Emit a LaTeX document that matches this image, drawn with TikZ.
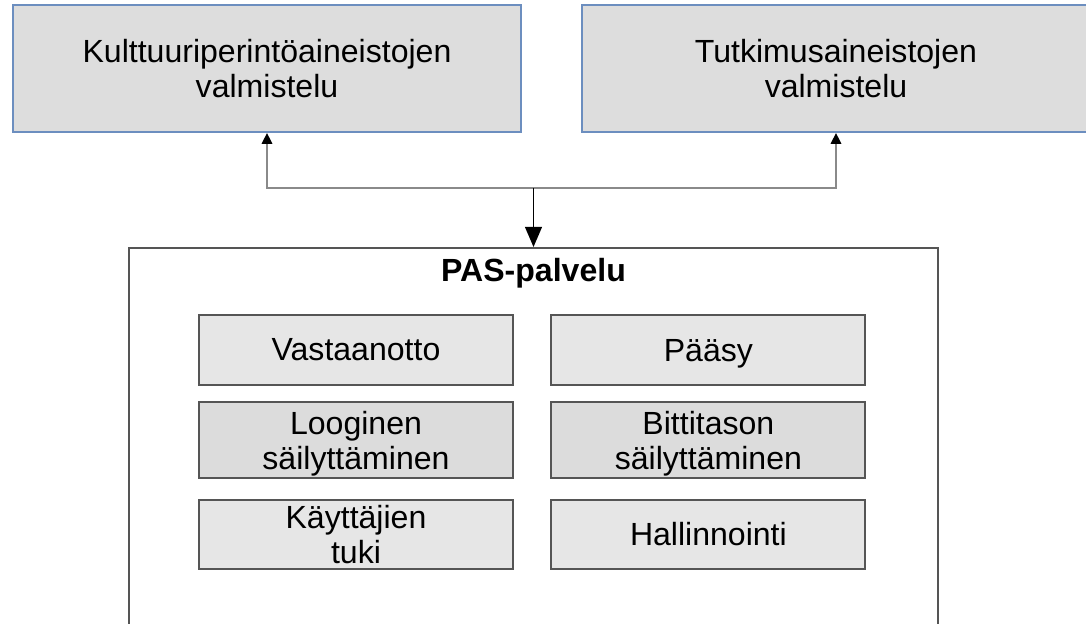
\documentclass[tikz,border=0pt]{standalone}
\usepackage{fontspec}
\setmainfont{Liberation Sans}
\usetikzlibrary{arrows.meta}

\definecolor{topfill}{HTML}{DDDDDD}
\definecolor{topline}{HTML}{6C8EBF}
\definecolor{boxfill}{HTML}{E6E6E6}
\definecolor{boxdark}{HTML}{DCDCDC}
\definecolor{boxline}{HTML}{555555}
\definecolor{linkgray}{HTML}{8A8A8A}

\begin{document}
\begin{tikzpicture}[
  every node/.style={font=\fontsize{22.8}{24.9}\selectfont, align=center},
  topbox/.style={draw=topline, fill=topfill, line width=1.4pt,
    minimum width=12.7cm, minimum height=3.175cm},
  partbox/.style={draw=boxline, fill=boxfill, line width=1.3pt,
    minimum width=7.85cm, inner sep=0pt}
]

% Page size and clipping
\useasboundingbox (0,0) rectangle (27.15,15.575);
\clip (0,0) rectangle (27.15,15.575);

% Preparation boxes
\node[topbox] (kult) at (6.675,13.8625) {Kulttuuriperintöaineistojen\\valmistelu};
\node[topbox] (tutk) at (20.9,13.8625) {Tutkimusaineistojen\\valmistelu};

% PAS service frame (open at the bottom)
\node[draw=boxline, fill=white, line width=1.6pt, minimum width=20.225cm,
  minimum height=11cm, anchor=north] (pas) at (13.3375,9.4) {};
\node[font=\fontsize{22.8}{24.9}\selectfont\bfseries] (title) at (13.3375,8.75) {PAS-palvelu};

% Service parts
\node[partbox, minimum height=1.75cm] (vast) at (8.9,6.825) {Vastaanotto};
\node[partbox, minimum height=1.75cm, text depth=0pt] (paasy) at (17.71,6.825) {Pääsy};
\node[partbox, fill=boxdark, minimum height=1.9cm, text depth=0pt] (loog) at (8.9,4.575) {Looginen\\säilyttäminen};
\node[partbox, fill=boxdark, minimum height=1.9cm, text depth=0pt] (bitti) at (17.71,4.575) {Bittitason\\säilyttäminen};
\node[partbox, minimum height=1.725cm] (tuki) at (8.9,2.2125) {Käyttäjien\\tuki};
\node[partbox, minimum height=1.725cm] (hall) at (17.71,2.2125) {Hallinnointi};

% Connectors
\coordinate (junc) at (13.3375,10.875);
\draw[linkgray, line width=1.2pt, -{Triangle[black, length=0.27cm, width=0.26cm]}]
  (junc) -| (kult.south);
\draw[linkgray, line width=1.2pt, -{Triangle[black, length=0.27cm, width=0.26cm]}]
  (junc) -| (tutk.south);
\draw[black, line width=1pt, -{Triangle[length=0.5cm, width=0.42cm]}]
  (junc) -- (pas.north);

\end{tikzpicture}
\end{document}
